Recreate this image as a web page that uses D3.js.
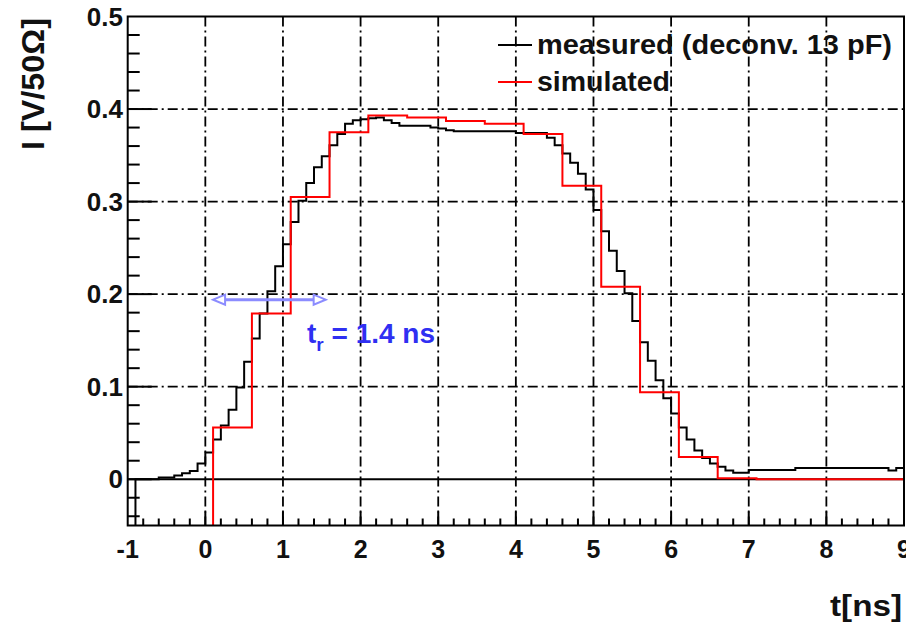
<!DOCTYPE html>
<html>
<head>
<meta charset="utf-8">
<title>Pulse shape</title>
<script src="https://cdn.jsdelivr.net/npm/d3@7"></script>
<style>
  body { margin: 0; background: #fff; }
  text { font-family: "Liberation Sans", Arial, sans-serif; font-weight: bold; }
</style>
</head>
<body>
<script>
// measured current, 0.1 ns bins starting at -1 ns
var measStart = -1, measWidth = 0.1;
var measured = [
  -0.08, 0, 0, 0, 0.002, 0.002, 0.004, 0.0065, 0.009, 0.017,
  0.029, 0.043, 0.058, 0.075, 0.099, 0.127, 0.152, 0.179, 0.203, 0.230,
  0.254, 0.278, 0.301, 0.320, 0.337, 0.349, 0.361, 0.373, 0.384, 0.388,
  0.389, 0.390, 0.391, 0.388, 0.385, 0.382, 0.382, 0.382, 0.382, 0.380,
  0.379, 0.377, 0.376, 0.376, 0.376, 0.376, 0.376, 0.376, 0.376, 0.376,
  0.374, 0.374, 0.374, 0.374, 0.369, 0.361, 0.352, 0.342, 0.330, 0.313,
  0.291, 0.268, 0.247, 0.225, 0.201, 0.171, 0.148, 0.128, 0.107, 0.0875,
  0.071, 0.056, 0.043, 0.031, 0.023, 0.017, 0.0136, 0.0093, 0.007, 0.007,
  0.010, 0.010, 0.010, 0.010, 0.010, 0.010, 0.012, 0.012, 0.012, 0.012,
  0.012, 0.012, 0.012, 0.012, 0.012, 0.012, 0.012, 0.012, 0.0093, 0.012
];
// simulated current, 0.5 ns bins starting at 0.1 ns
var simStart = 0.1, simWidth = 0.5;
var simulated = [
  0.056, 0.179, 0.305, 0.375, 0.393, 0.391, 0.387, 0.384, 0.373,
  0.317, 0.208, 0.094, 0.024, 0.001, 0, 0, 0, 0
];
var xTicks = [-1, 0, 1, 2, 3, 4, 5, 6, 7, 8, 9];
var yTicks = [0, 0.1, 0.2, 0.3, 0.4, 0.5];
var legendNames = ["measured (deconv. 13 pF)", "simulated"];
var riseTime = 1.4;

var W = 906, H = 624;
var svg = d3.select("body").append("svg")
    .attr("width", W).attr("height", H);

var x = d3.scaleLinear().domain([-1, 9]).range([127.7, 904]);
var y = d3.scaleLinear().domain([-0.05, 0.5]).range([525.5, 16.5]);

svg.append("defs").append("clipPath").attr("id", "plot")
  .append("rect")
    .attr("x", x(-1)).attr("y", y(0.5))
    .attr("width", x(9) - x(-1)).attr("height", y(-0.05) - y(0.5));

// grid (dash-dot)
svg.append("g").selectAll("line").data(xTicks.slice(1, -1)).enter().append("line")
    .attr("x1", function(d){ return x(d); }).attr("x2", function(d){ return x(d); })
    .attr("y1", y(0.5)).attr("y2", y(-0.05))
    .attr("stroke", "#000").attr("stroke-width", 1.8)
    .attr("stroke-dasharray", "10,4,2,4");
svg.append("g").selectAll("line").data(yTicks.slice(1, -1)).enter().append("line")
    .attr("x1", x(-1)).attr("x2", x(9))
    .attr("y1", function(d){ return y(d); }).attr("y2", function(d){ return y(d); })
    .attr("stroke", "#000").attr("stroke-width", 1.8)
    .attr("stroke-dasharray", "10,4,2,4");

// zero line
svg.append("line")
    .attr("x1", x(-1)).attr("x2", x(9)).attr("y1", y(0)).attr("y2", y(0))
    .attr("stroke", "#000").attr("stroke-width", 2);

// ticks
var yMinor = d3.range(-0.04, 0.5, 0.02).map(function(d){ return Math.round(d * 100) / 100; });
svg.append("g").selectAll("line").data(yMinor).enter().append("line")
    .attr("x1", x(-1)).attr("y1", function(d){ return y(d); }).attr("y2", function(d){ return y(d); })
    .attr("x2", function(d){ return x(-1) + (Math.abs(d * 10 - Math.round(d * 10)) < 1e-6 ? 24 : 12); })
    .attr("stroke", "#000").attr("stroke-width", 2);
var xMinor = d3.range(-0.8, 9, 0.2).map(function(d){ return Math.round(d * 10) / 10; });
svg.append("g").selectAll("line").data(xMinor).enter().append("line")
    .attr("x1", function(d){ return x(d); }).attr("x2", function(d){ return x(d); })
    .attr("y1", y(-0.05))
    .attr("y2", function(d){ return y(-0.05) - (Math.abs(d - Math.round(d)) < 1e-6 ? 14 : 7); })
    .attr("stroke", "#000").attr("stroke-width", 2);

// histograms as steps
function steps(start, width, vals) {
  var pts = [[start, -0.05]];
  vals.forEach(function(v, i){ pts.push([start + i * width, v]); });
  pts.push([start + vals.length * width, vals[vals.length - 1]]);
  return pts;
}
var stepLine = d3.line()
    .x(function(d){ return x(d[0]); })
    .y(function(d){ return y(d[1]); })
    .curve(d3.curveStepAfter);

var plot = svg.append("g").attr("clip-path", "url(#plot)");
plot.append("path").datum(steps(measStart, measWidth, measured))
    .attr("d", stepLine).attr("fill", "none")
    .attr("stroke", "#000").attr("stroke-width", 2);
plot.append("path").datum(steps(simStart, simWidth, simulated))
    .attr("d", stepLine).attr("fill", "none")
    .attr("stroke", "#ff0000").attr("stroke-width", 2);

// frame
svg.append("rect")
    .attr("x", x(-1)).attr("y", y(0.5))
    .attr("width", x(9) - x(-1)).attr("height", y(-0.05) - y(0.5))
    .attr("fill", "none").attr("stroke", "#000").attr("stroke-width", 2);

// tick labels
svg.append("g").selectAll("text").data(yTicks).enter().append("text")
    .attr("x", 123).attr("y", function(d){ return y(d) + 9; })
    .attr("text-anchor", "end").attr("font-size", 26).attr("fill", "#111")
    .text(function(d){ return d === 0 ? "0" : d3.format(".1f")(d); });
svg.append("g").selectAll("text").data(xTicks).enter().append("text")
    .attr("x", function(d){ return x(d); }).attr("y", 558)
    .attr("text-anchor", "middle").attr("font-size", 25).attr("fill", "#111")
    .text(function(d){ return d; });

// axis titles
svg.append("text")
    .attr("transform", "translate(44,84) rotate(-90)")
    .attr("text-anchor", "middle").attr("font-size", 32).attr("fill", "#111")
    .attr("textLength", 132).attr("lengthAdjust", "spacingAndGlyphs")
    .text("I [V/50\u03A9]");
svg.append("text")
    .attr("x", 902).attr("y", 616)
    .attr("text-anchor", "end").attr("font-size", 29).attr("fill", "#111")
    .attr("textLength", 72).attr("lengthAdjust", "spacingAndGlyphs")
    .text("t[ns]");

// legend
var legColors = ["#000", "#ff0000"];
var legY = [45, 82];
var legLen = [355, 133];
legendNames.forEach(function(name, i){
  svg.append("line")
      .attr("x1", 498).attr("x2", 532).attr("y1", legY[i]).attr("y2", legY[i])
      .attr("stroke", legColors[i]).attr("stroke-width", 2);
  svg.append("text")
      .attr("x", 537).attr("y", legY[i] + 9)
      .attr("font-size", 28).attr("fill", "#111")
      .attr("textLength", legLen[i]).attr("lengthAdjust", "spacingAndGlyphs")
      .text(name);
});

// rise time arrow
var ay = 0.194, ax0 = 0.1, ax1 = 1.55;
var arrowCol = "#8c8cff";
svg.append("line")
    .attr("x1", x(ax0) + 10).attr("x2", x(ax1) - 10)
    .attr("y1", y(ay)).attr("y2", y(ay))
    .attr("stroke", arrowCol).attr("stroke-width", 3);
[[ax0, 1], [ax1, -1]].forEach(function(a){
  var tx = x(a[0]), s = a[1], cy = y(ay);
  svg.append("path")
      .attr("d", "M" + tx + "," + cy + "L" + (tx + s * 12) + "," + (cy - 5) +
                 "L" + (tx + s * 12) + "," + (cy + 5) + "Z")
      .attr("fill", "#fff").attr("stroke", arrowCol).attr("stroke-width", 2);
});
var lab = svg.append("text").attr("x", 307).attr("y", 343)
    .attr("font-size", 28).attr("fill", "#2f2ff2");
lab.append("tspan").text("t");
lab.append("tspan").attr("font-size", 19).attr("dy", 8).text("r");
lab.append("tspan").attr("dy", -8).text(" = " + riseTime + " ns");
</script>
</body>
</html>
